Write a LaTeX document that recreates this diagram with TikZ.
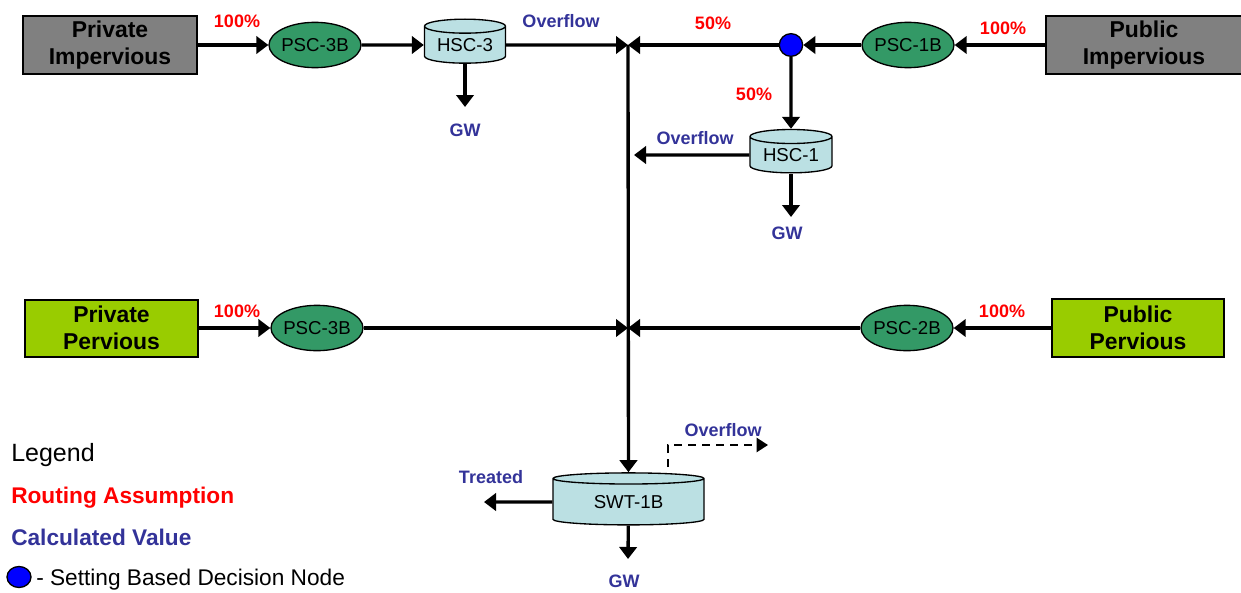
\documentclass[tikz,border=0pt]{standalone}
\usepackage{fontspec}
\setmainfont{Liberation Sans}
\usetikzlibrary{arrows.meta,shapes.geometric}
\definecolor{imperv}{RGB}{128,128,128}
\definecolor{perv}{RGB}{153,204,0}
\definecolor{bmpgreen}{RGB}{51,153,102}
\definecolor{tankblue}{RGB}{187,224,227}
\definecolor{calcblue}{RGB}{51,51,153}
\definecolor{routered}{RGB}{255,0,0}
\definecolor{deciblue}{RGB}{0,0,255}
\begin{document}
\begin{tikzpicture}[x=0.75pt,y=-0.75pt,
  area/.style={draw=black, line width=1.5pt, align=center, inner sep=0pt,
    font=\fontsize{17.2}{20}\selectfont\bfseries},
  imparea/.style={area, fill=imperv},
  perarea/.style={area, fill=perv},
  bmp/.style={ellipse, draw=black, line width=1pt, fill=bmpgreen, inner sep=-4pt,
    minimum width=69pt, minimum height=34pt, font=\fontsize{14}{16}\selectfont},
  tank/.style={cylinder, shape border rotate=90, draw=black, line width=1pt,
    fill=tankblue, inner sep=0pt, font=\fontsize{14}{16}\selectfont},
  flow/.style={line width=2.5pt, -{Triangle[length=9pt,width=13pt]}},
  spill/.style={line width=1.7pt, dash pattern=on 6pt off 4.5pt,
    -{Triangle[length=8.5pt,width=10.5pt]}},
  route/.style={text=routered, inner sep=0pt, font=\fontsize{13.5}{16}\selectfont\bfseries},
  calc/.style={text=calcblue, inner sep=0pt, font=\fontsize{13.5}{16}\selectfont\bfseries},
  decision/.style={ellipse, draw=black, line width=1pt, fill=deciblue, inner sep=0pt,
    minimum width=17.5pt, minimum height=17pt},
]
\useasboundingbox (0,0) rectangle (1241,592);

% source areas
\node[imparea, minimum width=130.5pt, minimum height=43.5pt] (priImp) at (110,45) {Private\\Impervious};
\node[imparea, minimum width=147pt, minimum height=43.5pt] (pubImp) at (1144,45) {Public\\Impervious};
\node[perarea, minimum width=129.75pt, minimum height=42.75pt] (priPer) at (111.5,328) {Private\\Pervious};
\node[perarea, minimum width=129pt, minimum height=43pt] (pubPer) at (1138,328) {Public\\Pervious};

% treatment elements
\node[bmp] (psc3a) at (315,45) {PSC-3B};
\node[tank, minimum width=60.75pt, minimum height=33pt, aspect=0.25] (hsc3) at (465,45) {HSC-3};
\node[decision] (split) at (791,45) {};
\node[bmp] (psc1b) at (908,45) {PSC-1B};
\node[tank, minimum width=61.5pt, minimum height=32.5pt, aspect=0.25] (hsc1) at (791,155) {HSC-1};
\node[bmp] (psc3b) at (317,328) {PSC-3B};
\node[bmp] (psc2b) at (907,328) {PSC-2B};
\node[tank, minimum width=113.25pt, minimum height=39pt, aspect=0.16] (swt) at (628.5,502) {SWT-1B};

% junctions and free ends
\coordinate (jtop) at (628,45);
\coordinate (jmid) at (628,328);
\coordinate (gw3end) at (465,107);
\coordinate (gw1end) at (791,217);
\coordinate (ovf1end) at (634,155);
\coordinate (treatEnd) at (484,502);
\coordinate (gwsEnd) at (628,559);
\coordinate (spillStart) at (668,467);
\coordinate (spillEnd) at (768,445);

% top row
\draw[flow] (priImp) -- (psc3a);
\draw[flow] (psc3a) -- (hsc3);
\draw[flow] (hsc3) -- (jtop);
\draw[flow] (pubImp) -- (psc1b);
\draw[flow] (psc1b) -- (split);
\draw[flow] (split) -- (jtop);
\draw[flow] (split) -- (hsc1);
\draw[flow] (hsc3) -- (gw3end);
\draw[flow] (hsc1) -- (gw1end);
\draw[flow] (hsc1) -- (ovf1end);

% middle row
\draw[flow] (priPer) -- (psc3b);
\draw[flow] (psc3b) -- (jmid);
\draw[flow] (pubPer) -- (psc2b);
\draw[flow] (psc2b) -- (jmid);

% trunk and stormwater treatment
\draw[flow] (jtop) -- (swt);
\draw[flow] (swt) -- (treatEnd);
\draw[flow] (swt) -- (gwsEnd);
\draw[spill] (spillStart) |- (spillEnd);

% labels
\node[route] (r1) at (237,21) {100\%};
\node[calc] (ovf3) at (561,21) {Overflow};
\node[route] (r2) at (713,23) {50\%};
\node[route] (r3) at (1003,28) {100\%};
\node[route] (r4) at (754,94) {50\%};
\node[calc] (gw3) at (465,130) {GW};
\node[calc] (ovf1) at (695,138) {Overflow};
\node[calc] (gw1) at (787,233) {GW};
\node[route] (r5) at (237,311) {100\%};
\node[route] (r6) at (1002,311) {100\%};
\node[calc] (ovfs) at (723,430) {Overflow};
\node[calc] (treated) at (491,477) {Treated};
\node[calc] (gws) at (624,581) {GW};

% legend
\node[anchor=base west, inner sep=0pt, font=\fontsize{18.75}{22}\selectfont] (legTitle) at (11,461.7) {Legend};
\node[route, anchor=base west, font=\fontsize{17}{20}\selectfont\bfseries] (legRoute) at (11,503.3) {Routing Assumption};
\node[calc, anchor=base west, font=\fontsize{17}{20}\selectfont\bfseries] (legCalc) at (11,545) {Calculated Value};
\node[decision, minimum width=18pt, minimum height=15.75pt] (legDot) at (19,577) {};
\node[anchor=base west, inner sep=0pt, font=\fontsize{17}{20}\selectfont] (legDotText) at (36,585) {- Setting Based Decision Node};
\end{tikzpicture}
\end{document}
